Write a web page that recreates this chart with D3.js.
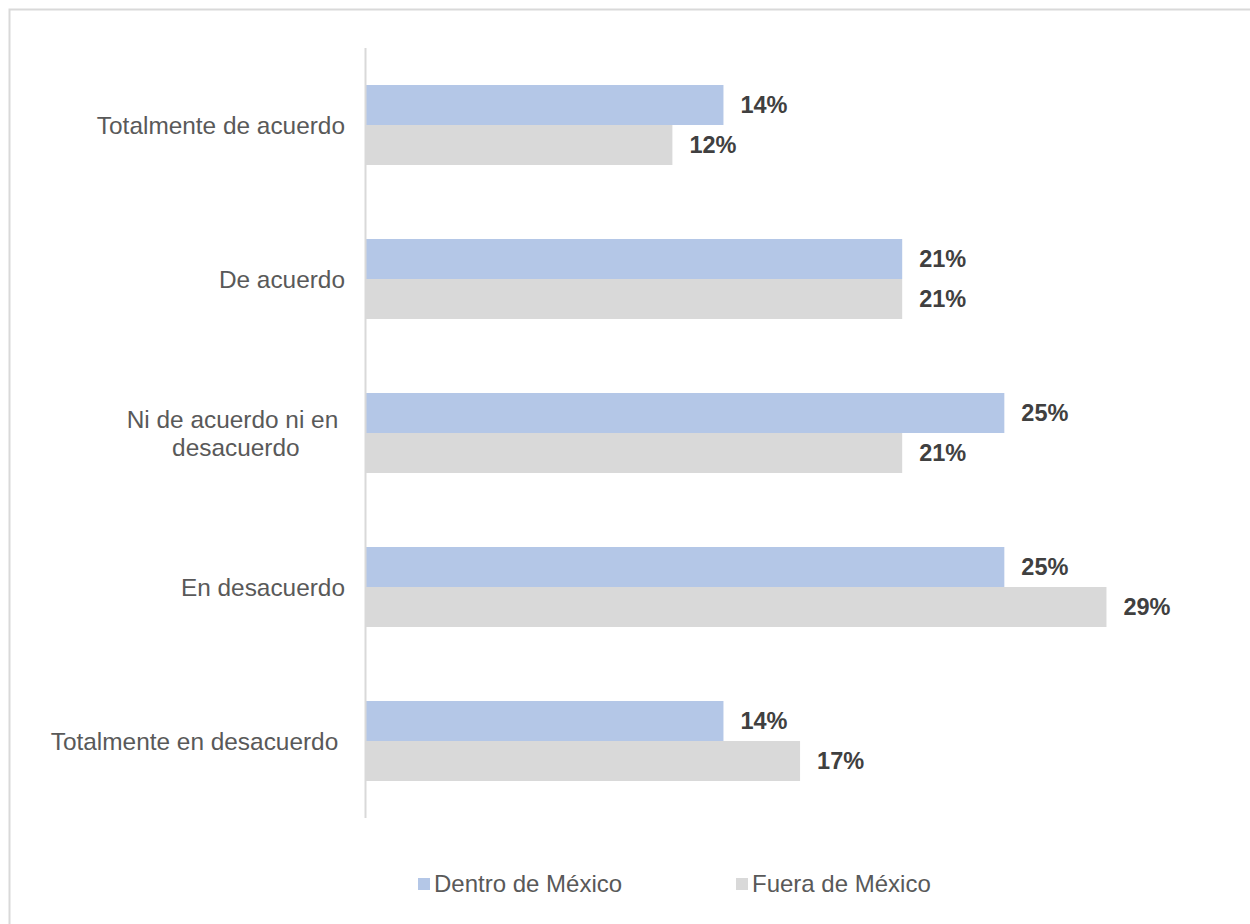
<!DOCTYPE html>
<html lang="es">
  <head>
    <meta charset="UTF-8" />
    <title>Chart</title>
    <style>
      body {
        margin: 0;
        background: #fff;
      }
      svg text {
        font-family: "Liberation Sans", Arial, sans-serif;
        white-space: pre;
      }
    </style>
  </head>
  <body>
    <svg width="1250" height="924" id="chart"></svg>

    <script src="https://d3js.org/d3.v7.min.js"></script>
    <script>
      // categories, one line per entry in the inner arrays
      var categories = [
        ["Totalmente de acuerdo"],
        ["De acuerdo"],
        ["Ni de acuerdo ni en ", "desacuerdo"],
        ["En desacuerdo"],
        ["Totalmente en desacuerdo "],
      ];
      var seriesNames = ["Dentro de México", "Fuera de México"];
      var dentro = [0.14, 0.21, 0.25, 0.25, 0.14];
      var fuera = [0.12, 0.21, 0.21, 0.29, 0.17];
      var colors = ["#b4c7e7", "#d9d9d9"];

      var svg = d3.select("#chart");

      // outer frame
      svg.append("rect")
        .attr("x", 9.5).attr("y", 9.5)
        .attr("width", 1260).attr("height", 940)
        .attr("fill", "none")
        .attr("stroke", "#d9d9d9")
        .attr("stroke-width", 2);

      var x = d3.scaleLinear().domain([0, 0.3]).range([366, 366 + 766]);
      var y = d3.scaleBand()
        .domain(d3.range(categories.length))
        .range([48, 818])
        .paddingInner(0.4805)
        .paddingOuter(0.2403);

      var rows = categories.map(function (c, i) {
        return { i: i, vals: [dentro[i], fuera[i]] };
      });
      var sub = d3.scaleBand().domain([0, 1]).range([0, y.bandwidth()]);

      var g = svg.selectAll("g.cat")
        .data(rows)
        .join("g")
        .attr("class", "cat")
        .attr("transform", function (d) { return "translate(0," + y(d.i) + ")"; });

      var bars = g.selectAll("g.bar")
        .data(function (d) {
          return d.vals.map(function (v, s) { return { v: v, s: s }; });
        })
        .join("g")
        .attr("class", "bar");

      bars.append("rect")
        .attr("x", x(0))
        .attr("y", function (d) { return sub(d.s); })
        .attr("width", function (d) { return x(d.v) - x(0); })
        .attr("height", sub.bandwidth())
        .attr("fill", function (d) { return colors[d.s]; });

      bars.append("text")
        .attr("x", function (d) { return x(d.v) + 17; })
        .attr("y", function (d) { return sub(d.s) + sub.bandwidth() / 2; })
        .attr("dy", "0.35em")
        .attr("font-size", "23.5px")
        .attr("font-weight", "bold")
        .attr("fill", "#404040")
        .text(function (d) { return d3.format(".0%")(d.v); });

      // axis line
      svg.append("line")
        .attr("x1", x(0) - 0.5).attr("x2", x(0) - 0.5)
        .attr("y1", 48).attr("y2", 818)
        .attr("stroke", "#d9d9d9")
        .attr("stroke-width", 2);

      // category labels
      var lineH = 28;
      g.each(function (d) {
        var lines = categories[d.i];
        var t = d3.select(this).append("text")
          .attr("font-size", "24.4px")
          .attr("fill", "#595959");
        var cy = y.bandwidth() / 2 - (lines.length - 1) * lineH / 2;
        lines.forEach(function (l, k) {
          t.append("tspan")
            .attr("y", cy + k * lineH)
            .attr("dy", "0.35em")
            .text(l);
        });
        var maxW = 0;
        t.selectAll("tspan").each(function () {
          maxW = Math.max(maxW, this.getComputedTextLength());
        });
        if (lines.length > 1) {
          t.attr("text-anchor", "middle")
            .selectAll("tspan").attr("x", 345 - maxW / 2);
        } else {
          t.attr("text-anchor", "end").selectAll("tspan").attr("x", 345);
        }
      });

      // legend
      var legendX = [418, 736];
      var lg = svg.selectAll("g.legend")
        .data(seriesNames)
        .join("g")
        .attr("class", "legend")
        .attr("transform", function (d, i) { return "translate(" + legendX[i] + ",884)"; });
      lg.append("rect")
        .attr("x", 0).attr("y", -6)
        .attr("width", 12).attr("height", 12)
        .attr("fill", function (d, i) { return colors[i]; });
      lg.append("text")
        .attr("x", 16)
        .attr("dy", "0.35em")
        .attr("font-size", "24px")
        .attr("fill", "#595959")
        .text(function (d) { return d; });
    </script>
  </body>
</html>
